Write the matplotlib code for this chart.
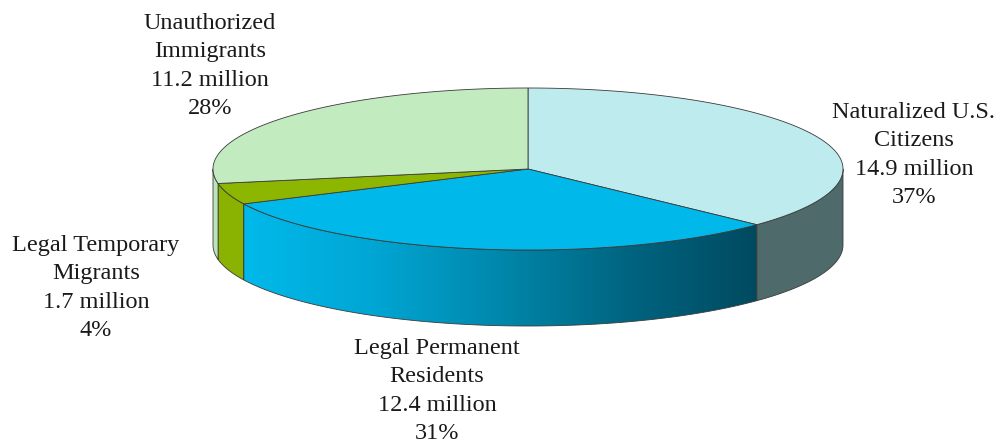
#!/usr/bin/env python3
"""3D-style pie of the U.S. foreign-born population by legal status."""

import numpy as np

import matplotlib

matplotlib.use("Agg")
import matplotlib.pyplot as plt
from matplotlib.colors import LinearSegmentedColormap
from matplotlib.patches import Polygon

# data
categories = ["Naturalized U.S.\nCitizens", "Legal Permanent\nResidents",
              "Legal Temporary\nMigrants", "Unauthorized\nImmigrants"]
millions = [14.9, 12.4, 1.7, 11.2]
percents = [37, 31, 4, 28]

# style / layout (pixel space of a 999x446 canvas)
top_colors = ["#BEECEE", "#00B9EA", "#8DB600", "#C2EBC0"]
side_colors = ["#4F6A6B", None, "#8AB200", "#BDE3BB"]
label_xy = [(914, 155), (437, 391), (96, 288), (210, 66)]
CX, CY, RX, RY, DEPTH = 528, 169, 315, 81, 76
EDGE = "#3a3a3a"


def arc(t0, t1, n=200, dy=0.0):
    t = np.radians(np.linspace(t0, t1, n))
    return np.column_stack([CX + RX * np.cos(t), CY - RY * np.sin(t) + dy])


def main() -> None:
    fig = plt.figure(figsize=(9.99, 4.46), dpi=100)
    ax = fig.add_axes([0, 0, 1, 1])
    ax.set_xlim(0, 999)
    ax.set_ylim(446, 0)
    ax.axis("off")

    total = float(sum(millions))
    spans = [v / total * 360.0 for v in millions]
    starts = 90.0 - np.concatenate([[0.0], np.cumsum(spans)[:-1]])
    ends = starts - np.array(spans)

    # side walls (front half only: angles between -180 and 0)
    grad = LinearSegmentedColormap.from_list(
        "lpr", ["#00B9EA", "#00A6D4", "#0087AB", "#006480", "#004A60"])
    for i in range(len(millions)):
        a0 = min(starts[i], 0.0)
        a1 = max(ends[i], -180.0)
        if a0 <= a1:
            continue
        top = arc(a0, a1)
        bot = arc(a1, a0, dy=DEPTH)
        pts = np.vstack([top, bot])
        if side_colors[i] is None:
            poly = Polygon(pts, closed=True, facecolor="none", edgecolor=EDGE,
                           linewidth=0.6, zorder=3)
            ax.add_patch(poly)
            x0, x1 = pts[:, 0].min(), pts[:, 0].max()
            y0, y1 = pts[:, 1].min(), pts[:, 1].max()
            img = ax.imshow(np.linspace(0, 1, 256)[None, :], cmap=grad,
                            extent=[x0, x1, y1, y0], aspect="auto", zorder=2)
            img.set_clip_path(poly)
        else:
            ax.add_patch(Polygon(pts, closed=True, facecolor=side_colors[i],
                                 edgecolor=EDGE, linewidth=0.6, zorder=2))

    # top faces
    for i in range(len(millions)):
        pts = np.vstack([[CX, CY], arc(starts[i], ends[i])])
        ax.add_patch(Polygon(pts, closed=True, facecolor=top_colors[i],
                             edgecolor=EDGE, linewidth=0.6, zorder=4))

    for name, val, pct, (x, y) in zip(categories, millions, percents, label_xy):
        ax.text(x, y, f"{name}\n{val} million\n{pct}%", ha="center", va="center",
                family="Liberation Serif", fontsize=17.5, color="#1a1a1a",
                linespacing=1.45)

    fig.savefig("out.png", dpi=100)
    plt.close(fig)


if __name__ == "__main__":
    main()
